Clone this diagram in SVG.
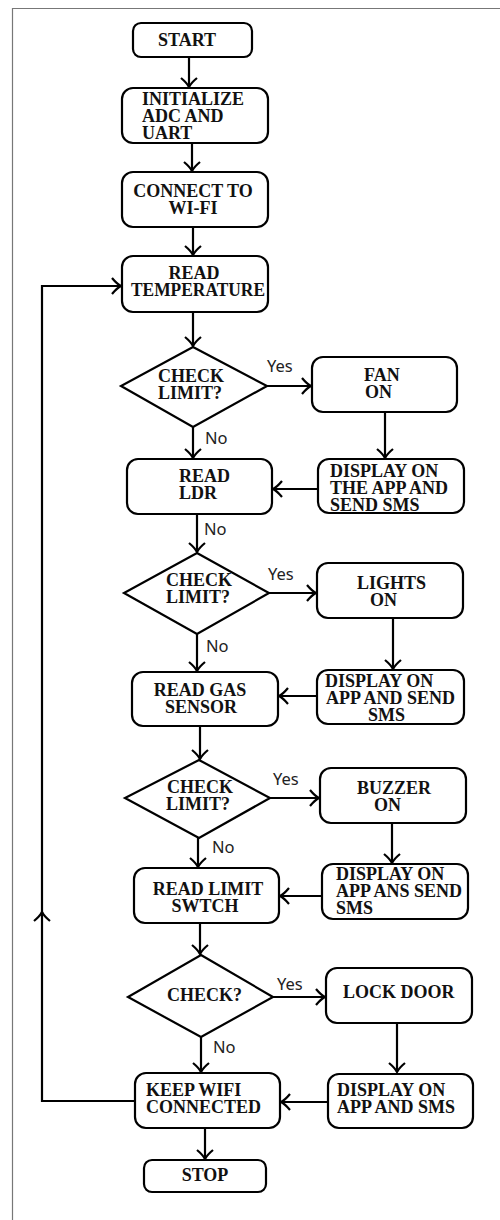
<svg xmlns="http://www.w3.org/2000/svg" width="500" height="1220" viewBox="0 0 500 1220">
<style>
.box{fill:#fff;stroke:#000;stroke-width:2.2}
.t{font-family:"Liberation Serif","Times New Roman",serif;font-weight:bold;font-size:18px;fill:#111}
.m{text-anchor:middle}
.lbl{font-family:"Noto Sans","Open Sans",sans-serif;font-size:16.5px;fill:#222}
.c{fill:none;stroke:#000;stroke-width:2.2}
</style>
<defs>
<marker id="ah" markerUnits="userSpaceOnUse" markerWidth="20" markerHeight="20" refX="0" refY="0" viewBox="-12 -10 14 20" orient="auto" overflow="visible">
<path d="M-9,-8 Q-4,-2 0,0 Q-4,2 -9,8" fill="none" stroke="#000" stroke-width="2.2"/>
</marker>
</defs>
<rect width="500" height="1220" fill="#fff"/>
<path d="M12.5,1220 V8.5 H500" fill="none" stroke="#777" stroke-width="1.2"/>

<g id="connectors">
<path class="c" marker-end="url(#ah)" d="M189,57 V87"/>
<path class="c" marker-end="url(#ah)" d="M192,143 V171"/>
<path class="c" marker-end="url(#ah)" d="M193,227 V255"/>
<path class="c" marker-end="url(#ah)" d="M193,312 V346"/>
<path class="c" marker-end="url(#ah)" d="M267,386 H311"/>
<path class="c" marker-end="url(#ah)" d="M385,412 V458"/>
<path class="c" marker-end="url(#ah)" d="M193,427 V458"/>
<path class="c" marker-end="url(#ah)" d="M318,489 H273"/>
<path class="c" marker-end="url(#ah)" d="M197,514 V552"/>
<path class="c" marker-end="url(#ah)" d="M269,593 H316"/>
<path class="c" marker-end="url(#ah)" d="M393,618 V669"/>
<path class="c" marker-end="url(#ah)" d="M197,634 V671"/>
<path class="c" marker-end="url(#ah)" d="M317,696 H279"/>
<path class="c" marker-end="url(#ah)" d="M200,726 V759"/>
<path class="c" marker-end="url(#ah)" d="M270,798 H319"/>
<path class="c" marker-end="url(#ah)" d="M392,823 V863"/>
<path class="c" marker-end="url(#ah)" d="M198,838 V867"/>
<path class="c" marker-end="url(#ah)" d="M322,896 H280"/>
<path class="c" marker-end="url(#ah)" d="M200,923 V954"/>
<path class="c" marker-end="url(#ah)" d="M273,997 H325"/>
<path class="c" marker-end="url(#ah)" d="M397,1023 V1072"/>
<path class="c" marker-end="url(#ah)" d="M201,1037 V1072"/>
<path class="c" marker-end="url(#ah)" d="M328,1102 H281"/>
<path class="c" marker-end="url(#ah)" d="M205,1128 V1159"/>
<path class="c" marker-end="url(#ah)" d="M135,1101 H42 V912"/>
<path class="c" marker-end="url(#ah)" d="M42,913 V286 H121"/>
<text class="lbl" x="267" y="372">Yes</text>
<text class="lbl" x="205" y="444">No</text>
<text class="lbl" x="204" y="535">No</text>
<text class="lbl" x="268" y="580">Yes</text>
<text class="lbl" x="206" y="652">No</text>
<text class="lbl" x="273" y="785">Yes</text>
<text class="lbl" x="212" y="853">No</text>
<text class="lbl" x="277" y="990">Yes</text>
<text class="lbl" x="213" y="1053">No</text>
</g>

<g id="start"><rect class="box" x="133" y="23" width="119" height="34" rx="8"/><text class="t m" x="187" y="46">START</text></g>
<g id="init"><rect class="box" x="122" y="88" width="146" height="55" rx="11"/><text class="t" x="142" y="105">INITIALIZE</text><text class="t" x="142" y="122">ADC AND</text><text class="t" x="142" y="139">UART</text></g>
<g id="wifi"><rect class="box" x="122" y="172" width="146" height="55" rx="11"/><text class="t m" x="193" y="197">CONNECT TO</text><text class="t m" x="193" y="214">WI-FI</text></g>
<g id="temp"><rect class="box" x="122" y="256" width="146" height="56" rx="11"/><text class="t m" x="194" y="279">READ</text><text class="t" x="131" y="296" textLength="134" lengthAdjust="spacingAndGlyphs">TEMPERATURE</text></g>
<g id="check1"><polygon class="box" points="193,347 267,386 193,427 121,386"/><text class="t" x="158" y="382">CHECK</text><text class="t" x="158" y="399">LIMIT?</text></g>
<g id="fan"><rect class="box" x="312" y="357" width="145" height="55" rx="11"/><text class="t" x="364" y="381">FAN</text><text class="t" x="365" y="398">ON</text></g>
<g id="disp1"><rect class="box" x="318" y="459" width="146" height="54" rx="11"/><text class="t" x="330" y="477">DISPLAY ON</text><text class="t" x="330" y="494">THE APP AND</text><text class="t" x="330" y="511">SEND SMS</text></g>
<g id="ldr"><rect class="box" x="127" y="459" width="145" height="55" rx="11"/><text class="t" x="179" y="482">READ</text><text class="t" x="179" y="499">LDR</text></g>
<g id="check2"><polygon class="box" points="197,553 269,593 197,634 124,593"/><text class="t" x="166" y="586">CHECK</text><text class="t" x="166" y="603">LIMIT?</text></g>
<g id="lights"><rect class="box" x="317" y="563" width="146" height="55" rx="11"/><text class="t" x="357" y="589">LIGHTS</text><text class="t" x="370" y="606">ON</text></g>
<g id="disp2"><rect class="box" x="317" y="670" width="147" height="54" rx="11"/><text class="t" x="325" y="687">DISPLAY ON</text><text class="t" x="326" y="704">APP AND SEND</text><text class="t" x="368" y="721">SMS</text></g>
<g id="gas"><rect class="box" x="132" y="672" width="146" height="54" rx="11"/><text class="t m" x="200" y="696">READ GAS</text><text class="t m" x="201" y="713">SENSOR</text></g>
<g id="check3"><polygon class="box" points="199,760 270,798 199,838 125,798"/><text class="t" x="167" y="793">CHECK</text><text class="t" x="166" y="810">LIMIT?</text></g>
<g id="buzzer"><rect class="box" x="320" y="768" width="146" height="55" rx="11"/><text class="t" x="357" y="794">BUZZER</text><text class="t" x="374" y="811">ON</text></g>
<g id="disp3"><rect class="box" x="322" y="864" width="146" height="55" rx="11"/><text class="t" x="336" y="880">DISPLAY ON</text><text class="t" x="336" y="897">APP ANS SEND</text><text class="t" x="336" y="914">SMS</text></g>
<g id="limit"><rect class="box" x="134" y="868" width="145" height="55" rx="11"/><text class="t m" x="208" y="895">READ LIMIT</text><text class="t m" x="205" y="912">SWTCH</text></g>
<g id="check4"><polygon class="box" points="201,955 273,997 201,1037 128,997"/><text class="t" x="167" y="1001">CHECK?</text></g>
<g id="lock"><rect class="box" x="326" y="968" width="146" height="55" rx="11"/><text class="t" x="343" y="998">LOCK DOOR</text></g>
<g id="disp4"><rect class="box" x="328" y="1074" width="145" height="54" rx="11"/><text class="t" x="337" y="1096">DISPLAY ON</text><text class="t" x="337" y="1113">APP AND SMS</text></g>
<g id="keep"><rect class="box" x="135" y="1073" width="145" height="55" rx="11"/><text class="t" x="146" y="1096">KEEP WIFI</text><text class="t" x="146" y="1113">CONNECTED</text></g>
<g id="stop"><rect class="box" x="144" y="1160" width="122" height="32" rx="8"/><text class="t m" x="205" y="1181">STOP</text></g>
</svg>
